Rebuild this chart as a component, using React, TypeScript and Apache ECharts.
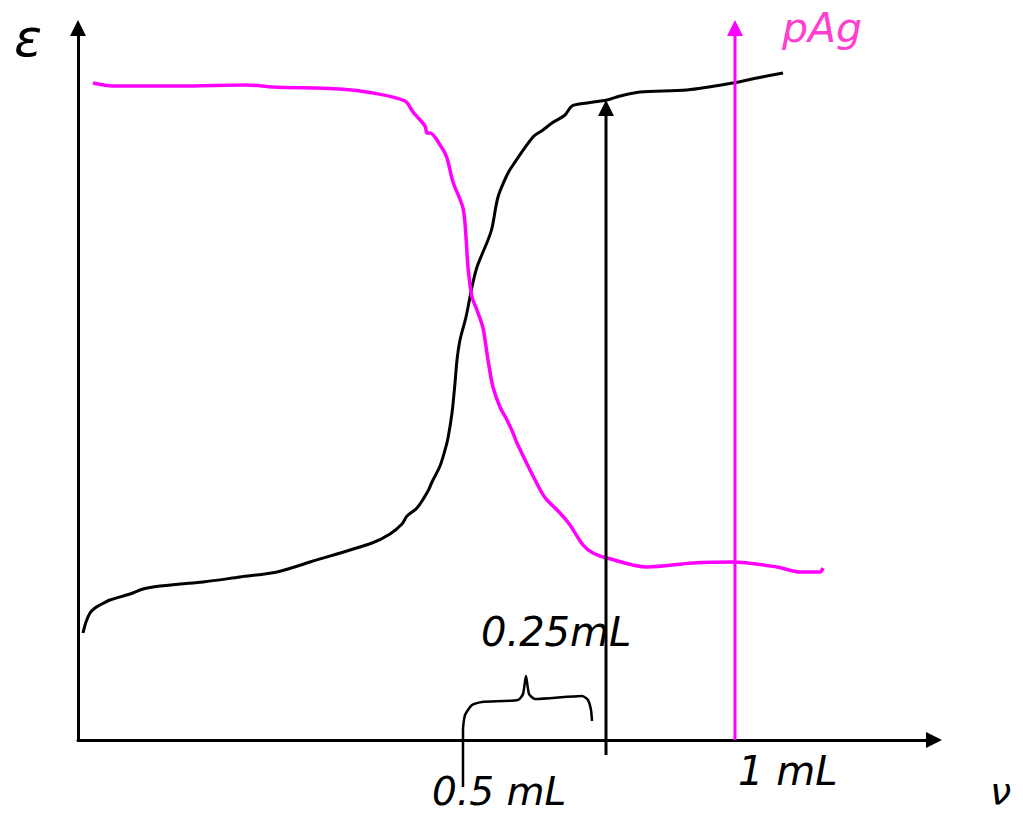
import React, { useEffect, useRef } from "react";
import * as echarts from "echarts";

// Units: arbitrary volume (x) and potential (y) units of the sketch
const X_MAX = 856;
const Y_MAX = 712;

// Potential E curve (black)
const eCurve: number[][] = [
  [5, 107], [8, 118], [12, 127], [17, 132], [22, 135], [32, 140], [52, 146], [65, 151],
  [82, 154], [102, 156], [125, 158], [162, 163], [199, 168], [232, 178], [294, 197],
  [312, 206], [324, 216], [329, 224], [339, 232], [350, 249], [354, 258], [362, 274],
  [367, 290], [370, 302], [374, 327], [377, 357], [379, 380], [382, 400], [388, 423],
  [394, 453], [399, 473], [410, 500], [414, 512], [420, 543], [429, 565], [435, 575],
  [455, 603], [465, 610], [474, 617], [487, 625], [494, 634], [509, 637], [529, 640],
  [542, 644], [562, 648], [609, 650], [655, 657], [679, 662], [705, 667],
];

// pAg curve (magenta)
const pAgCurve: number[][] = [
  [15, 657], [35, 654], [102, 654], [169, 655], [195, 653], [262, 651], [295, 647],
  [327, 639], [335, 628], [347, 614], [349, 607], [352, 607], [364, 592], [369, 582],
  [375, 558], [385, 532], [388, 503], [390, 473], [394, 443], [399, 430], [405, 412],
  [410, 380], [415, 353], [422, 333], [429, 320], [435, 307], [439, 297], [452, 270],
  [464, 247], [469, 240], [482, 227], [492, 215], [505, 195], [515, 187], [529, 182],
  [569, 173], [615, 177], [655, 178], [699, 173], [722, 168], [742, 168], [745, 172],
];

// Vertical markers
const equivArrow: number[][] = [[528, -15], [528, 632]];
const pAgArrow: number[][] = [[657, 0], [657, 712]];

// Brace marking the 0.25 ml interval
const brace: number[][] = [
  [385, -47], [385, 10], [387, 25], [394, 35], [404, 38], [440, 40], [445, 46],
  [448, 64], [451, 46], [457, 41], [504, 44], [510, 40], [513, 30], [514, 19],
];

const labels = [
  { text: "ε", x: 14, y: 38, color: "#000", size: 52 },
  { text: "pAg", x: 782, y: 28, color: "#ff3fcf", size: 41 },
  { text: "0.25mL", x: 481, y: 632, color: "#000", size: 40 },
  { text: "1 mL", x: 738, y: 771, color: "#000", size: 40 },
  { text: "0.5 mL", x: 432, y: 791, color: "#000", size: 39 },
  { text: "ν", x: 990, y: 791, color: "#000", size: 38 },
];

export default function App() {
  const ref = useRef<HTMLDivElement>(null);
  useEffect(() => {
    if (!ref.current) return;
    const chart = echarts.init(ref.current, null, { renderer: "svg" });
    const font = "'DejaVu Sans', sans-serif";
    chart.setOption({
      animation: false,
      backgroundColor: "#fff",
      grid: { left: 78, top: 28, right: 89, bottom: 77 },
      xAxis: {
        type: "value",
        min: 0,
        max: X_MAX,
        axisLine: {
          show: true,
          symbol: ["none", "triangle"],
          symbolSize: [16, 16],
          lineStyle: { color: "#000", width: 3 },
        },
        axisTick: { show: false },
        axisLabel: { show: false },
        splitLine: { show: false },
      },
      yAxis: {
        type: "value",
        min: 0,
        max: Y_MAX,
        axisLine: {
          show: true,
          symbol: ["none", "triangle"],
          symbolSize: [16, 16],
          lineStyle: { color: "#000", width: 3 },
        },
        axisTick: { show: false },
        axisLabel: { show: false },
        splitLine: { show: false },
      },
      series: [
        {
          type: "line",
          data: eCurve,
          showSymbol: false,
          symbol: "none",
          smooth: 0.3,
          lineStyle: { color: "#000", width: 3 },
          clip: false,
        },
        {
          type: "line",
          data: pAgCurve,
          showSymbol: false,
          symbol: "none",
          smooth: 0.3,
          lineStyle: { color: "#ff00ff", width: 3.5 },
          clip: false,
        },
        {
          type: "line",
          data: [
            { value: equivArrow[0], symbol: "none" },
            { value: equivArrow[1], symbol: "triangle", symbolSize: 16 },
          ],
          showAllSymbol: true,
          itemStyle: { color: "#000" },
          lineStyle: { color: "#000", width: 3 },
          clip: false,
        },
        {
          type: "line",
          data: [
            { value: pAgArrow[0], symbol: "none" },
            { value: pAgArrow[1], symbol: "triangle", symbolSize: 16 },
          ],
          showAllSymbol: true,
          itemStyle: { color: "#ff00ff" },
          lineStyle: { color: "#ff00ff", width: 3 },
          clip: false,
        },
        {
          type: "line",
          data: brace,
          symbol: "none",
          smooth: 0.2,
          lineStyle: { color: "#000", width: 2.5 },
          clip: false,
        },
      ],
      graphic: labels.map((l) => ({
        type: "text",
        x: l.x,
        y: l.y,
        style: {
          text: l.text,
          fill: l.color,
          font: `italic ${l.size}px ${font}`,
          align: "left",
          verticalAlign: "middle",
        },
      })),
    });
    return () => chart.dispose();
  }, []);
  return (
    <div
      ref={ref}
      style={{ position: "absolute", left: 0, top: 0, width: 1023, height: 817 }}
    />
  );
}
